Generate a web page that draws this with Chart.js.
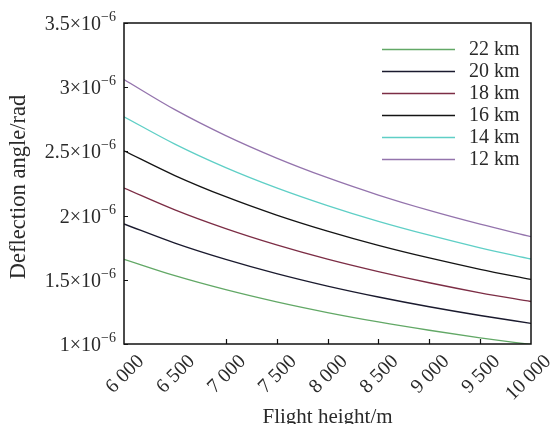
<!DOCTYPE html>
<html><head><meta charset="utf-8">
<script src="https://cdn.jsdelivr.net/npm/chart.js@4/dist/chart.umd.min.js"></script>
<style>html,body{margin:0;padding:0;background:#fff}#wrap{width:555px;height:424px}</style>
</head><body><div id="wrap"><canvas id="c" width="555" height="424"></canvas></div>
<script>
const heights = [6000, 6500, 7000, 7500, 8000, 8500, 9000, 9500, 10000];
const labels = ['22 km', '20 km', '18 km', '16 km', '14 km', '12 km'];
const km22 = [1.660e-6, 1.532e-6, 1.423e-6, 1.328e-6, 1.245e-6, 1.172e-6, 1.107e-6, 1.048e-6, 0.996e-6];
const km20 = [1.935e-6, 1.786e-6, 1.659e-6, 1.548e-6, 1.451e-6, 1.366e-6, 1.290e-6, 1.222e-6, 1.161e-6];
const km18 = [2.215e-6, 2.045e-6, 1.899e-6, 1.772e-6, 1.661e-6, 1.564e-6, 1.477e-6, 1.399e-6, 1.331e-6];
const km16 = [2.505e-6, 2.312e-6, 2.147e-6, 2.004e-6, 1.879e-6, 1.768e-6, 1.670e-6, 1.582e-6, 1.503e-6];
const km14 = [2.770e-6, 2.557e-6, 2.374e-6, 2.216e-6, 2.078e-6, 1.955e-6, 1.847e-6, 1.749e-6, 1.662e-6];
const km12 = [3.060e-6, 2.825e-6, 2.623e-6, 2.448e-6, 2.295e-6, 2.160e-6, 2.040e-6, 1.933e-6, 1.836e-6];
const yTicks = [1e-6, 1.5e-6, 2e-6, 2.5e-6, 3e-6, 3.5e-6];
const yTickText = ['1', '1.5', '2', '2.5', '3', '3.5'];
const xTickText = ['6 000', '6 500', '7 000', '7 500', '8 000', '8 500', '9 000', '9 500', '10 000'];
const xTickMarks = [7000, 7500, 8000, 8500, 9000, 9500];

const series = [km22, km20, km18, km16, km14, km12];
const colors = ['#62a866', '#1a1a2e', '#7c2d45', '#141414', '#5fcfc6', '#9474ad'];
const FONT = "'Liberation Serif', 'Times New Roman', serif";
const TXT = '#2a2a2a';

const datasets = series.map((s, i) => ({
  label: labels[i],
  data: heights.map((h, j) => ({x: h, y: s[j]})),
  borderColor: colors[i],
  borderWidth: 1.3,
  pointRadius: 0,
  fill: false,
  cubicInterpolationMode: 'monotone'
}));

const deco = {
  id: 'deco',
  afterDraw(chart) {
    const ctx = chart.ctx, a = chart.chartArea;
    const xs = chart.scales.x, ys = chart.scales.y;
    ctx.save();
    ctx.strokeStyle = '#111';
    ctx.lineWidth = 1.5;
    ctx.strokeRect(a.left, a.top, a.right - a.left, a.bottom - a.top);
    ctx.lineWidth = 1.2;
    ctx.beginPath();
    yTicks.forEach(v => {
      const y = Math.round(ys.getPixelForValue(v)) + 0.5;
      ctx.moveTo(a.left, y); ctx.lineTo(a.left + 4, y);
    });
    xTickMarks.forEach(v => {
      const x = Math.round(xs.getPixelForValue(v)) + 0.5;
      ctx.moveTo(x, a.bottom); ctx.lineTo(x, a.bottom - 5);
    });
    ctx.stroke();
    // y tick labels with superscript
    ctx.fillStyle = TXT;
    ctx.textBaseline = 'alphabetic';
    ctx.textAlign = 'left';
    yTicks.forEach((v, i) => {
      const y = ys.getPixelForValue(v);
      const base = yTickText[i] + '\u00d710';
      const sup = '\u22126';
      ctx.font = '14px ' + FONT;
      const sw = ctx.measureText(sup).width;
      ctx.font = '20px ' + FONT;
      const bw = ctx.measureText(base).width;
      const right = a.left - 8;
      ctx.fillText(base, right - sw - bw, y + 7);
      ctx.font = '14px ' + FONT;
      ctx.fillText(sup, right - sw, y - 2);
    });
    // y title
    ctx.save();
    ctx.translate(19, 187);
    ctx.rotate(-Math.PI / 2);
    ctx.font = '22.5px ' + FONT;
    ctx.textAlign = 'center';
    ctx.textBaseline = 'middle';
    ctx.fillText('Deflection angle/rad', 0, 0);
    ctx.restore();
    // legend
    ctx.font = '20px ' + FONT;
    ctx.textAlign = 'left';
    ctx.textBaseline = 'middle';
    chart.data.datasets.forEach((d, i) => {
      const y = 49 + i * 22;
      ctx.strokeStyle = d.borderColor;
      ctx.lineWidth = 1.3;
      ctx.beginPath();
      ctx.moveTo(382, y + 0.5); ctx.lineTo(455, y + 0.5);
      ctx.stroke();
      ctx.fillStyle = TXT;
      ctx.fillText(d.label, 469, y + 1);
    });
    ctx.restore();
  }
};

new Chart(document.getElementById('c'), {
  type: 'line',
  data: {datasets},
  plugins: [deco],
  options: {
    responsive: false,
    animation: false,
    layout: {padding: {left: 0, right: 24, top: 23, bottom: 0}},
    plugins: {legend: {display: false}, tooltip: {enabled: false}},
    scales: {
      x: {
        type: 'linear', min: 6000, max: 10000,
        afterBuildTicks: s => { s.ticks = heights.map(v => ({value: v})); },
        afterFit: s => { s.height = 80; },
        grid: {display: false, drawTicks: false},
        border: {display: false},
        ticks: {
          minRotation: 45, maxRotation: 45, padding: 6, labelOffset: 17,
          color: TXT, font: {family: FONT, size: 20},
          callback: (v) => xTickText[heights.indexOf(v)]
        },
        title: {display: true, text: 'Flight height/m', color: TXT, font: {family: FONT, size: 21}, padding: {top: 0, bottom: -6}}
      },
      y: {
        type: 'linear', min: 1e-6, max: 3.5e-6,
        afterBuildTicks: s => { s.ticks = yTicks.map(v => ({value: v})); },
        afterFit: s => { s.width = 124; },
        grid: {display: false, drawTicks: false},
        border: {display: false},
        ticks: {display: false},
        title: {display: false}
      }
    }
  }
});
</script>
</body></html>
